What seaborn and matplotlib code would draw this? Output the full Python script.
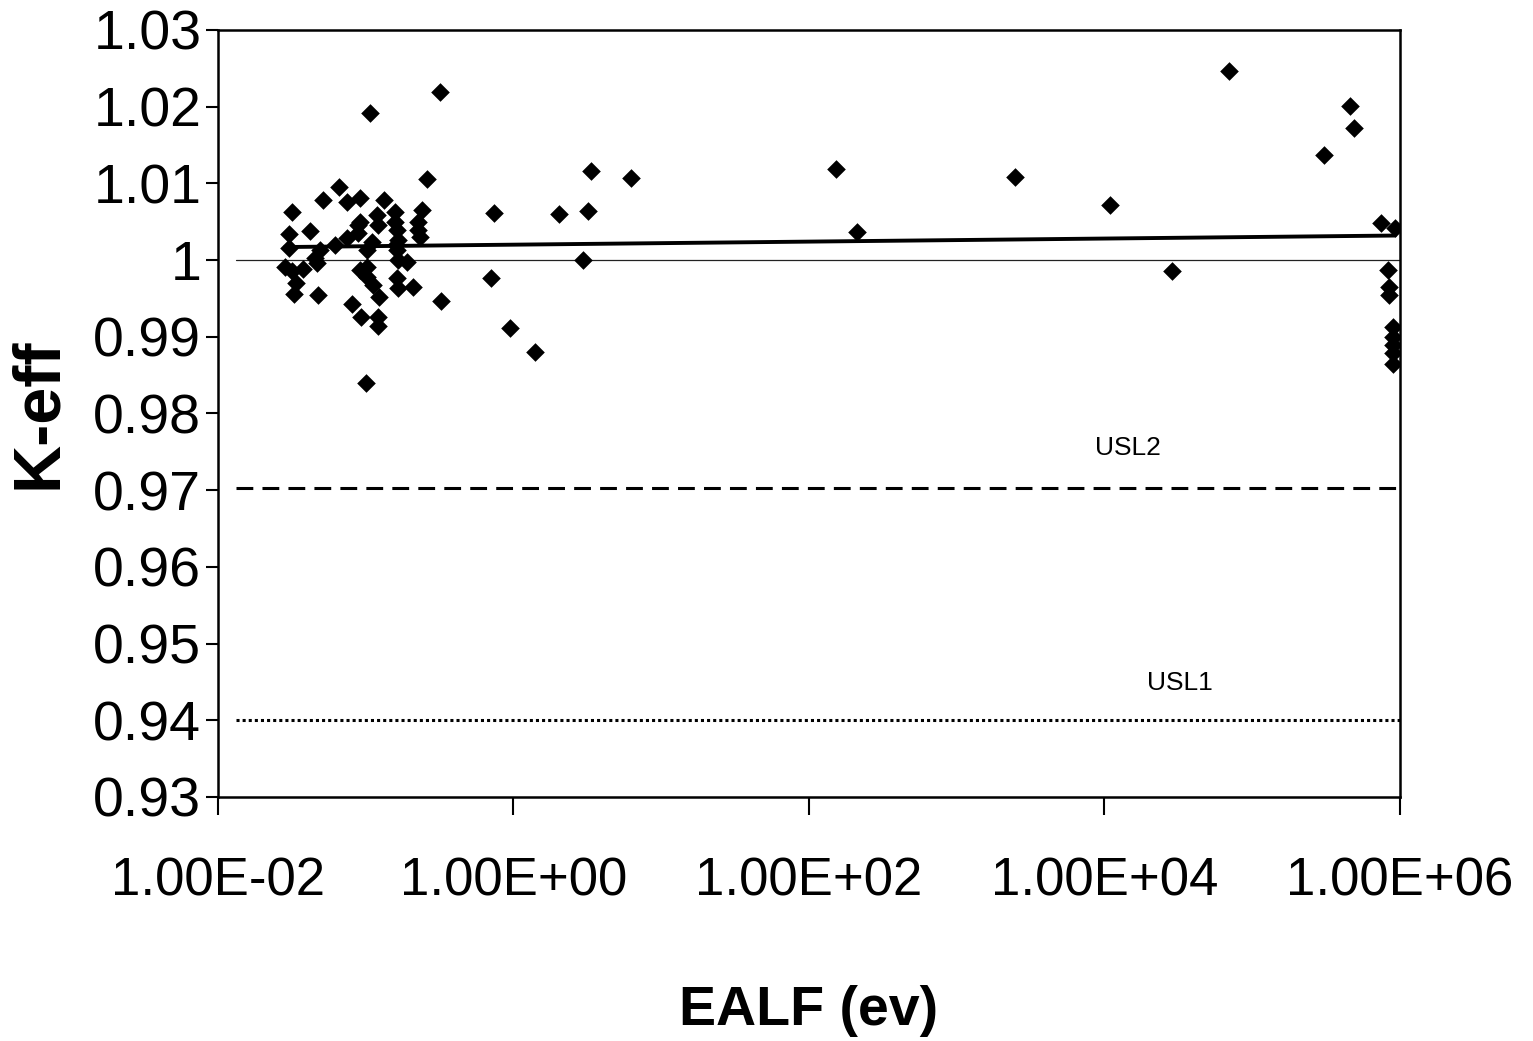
import numpy as np
import pandas as pd
import matplotlib
matplotlib.use("Agg")
import matplotlib.pyplot as plt
import seaborn as sns

# ---- data ----
ealf = [0.0317, 0.0303, 0.0303, 0.0284, 0.0317, 0.0376, 0.0337, 0.0327, 0.042, 0.0475,
        0.0454, 0.0468, 0.0514, 0.0619, 0.0659, 0.0747, 0.0747, 0.0915, 0.0915, 0.0887,
        0.102, 0.0915, 0.102, 0.102, 0.112, 0.0807, 0.0929, 0.123, 0.121, 0.121,
        0.1004, 0.119, 0.121, 0.133, 0.110, 0.158, 0.158, 0.163, 0.165, 0.163,
        0.165, 0.190, 0.163, 0.165, 0.209, 0.240, 0.226, 0.226, 0.233, 0.260,
        0.323, 0.107, 0.318, 0.049, 0.089, 0.160,
        0.738, 0.705, 0.946, 1.40, 2.03, 3.19, 3.35, 2.95, 6.24,
        152, 211, 2480, 10900, 28600, 69600,
        306000, 459000, 489000, 743000, 925000, 830000, 845000, 845000,
        897000, 897000, 897000, 897000, 897000]
keff = [1.0063, 1.0034, 1.0016, 0.9991, 0.9986, 0.9988, 0.9970, 0.9956, 1.0038, 0.9955,
        1.0003, 0.9996, 1.0078, 1.0020, 1.0095, 1.0076, 1.0029, 1.0081, 1.0050, 1.0035,
        1.0013, 0.9987, 0.9991, 0.9978, 0.9968, 0.9943, 0.9926, 0.9952, 0.9926, 0.9914,
        0.9840, 1.0059, 1.0046, 1.0078, 1.0024, 1.0063, 1.0050, 1.0039, 1.0026, 1.0013,
        1.0000, 0.99975, 0.9977, 0.9964, 0.9965, 1.0065, 1.0050, 1.0039, 1.0030, 1.0106,
        0.9947, 1.0192, 1.0219, 1.0013, 1.0046, 1.0020,
        1.0061, 0.9977, 0.9911, 0.9880, 1.0060, 1.0064, 1.0116, 1.0000, 1.0107,
        1.0119, 1.0037, 1.0108, 1.0072, 0.9986, 1.0247,
        1.0137, 1.0201, 1.0172, 1.0048, 1.0042, 0.9987, 0.9965, 0.9955,
        0.9913, 0.9900, 0.9889, 0.9879, 0.9865]

# logarithmic trendline as drawn in the reference (values at its two ends)
trend_x = [0.0284, 925000]
trend_keff = [1.0017, 1.0032]

ref_x = [0.0133, 1.0e6]        # extent of the horizontal reference series
unity = [1.0, 1.0]
usl2 = [0.9703, 0.9703]
usl1 = [0.940, 0.940]

xtick_vals = [1e-2, 1e0, 1e2, 1e4, 1e6]
xtick_labels = ["1.00E-02", "1.00E+00", "1.00E+02", "1.00E+04", "1.00E+06"]
ytick_vals = [1.03, 1.02, 1.01, 1.00, 0.99, 0.98, 0.97, 0.96, 0.95, 0.94, 0.93]
ytick_labels = ["1.03", "1.02", "1.01", "1", "0.99", "0.98", "0.97", "0.96", "0.95", "0.94", "0.93"]

df = pd.DataFrame({"EALF": ealf, "Keff": keff})
trend = pd.DataFrame({"EALF": trend_x, "Keff": trend_keff})

sns.set_theme(style="ticks")
plt.rcParams["font.family"] = ["Liberation Sans", "DejaVu Sans"]
plt.rcParams["text.color"] = "black"
plt.rcParams["axes.labelcolor"] = "black"
plt.rcParams["xtick.color"] = "black"
plt.rcParams["ytick.color"] = "black"

fig = plt.figure(figsize=(15.33, 10.41), dpi=100)
ax = fig.add_axes([0.1422, 0.2344, 0.9132 - 0.1422, 0.9712 - 0.2344])
ax.set_xscale("log")

# reference lines
ax.plot(ref_x, unity, color="#222222", lw=0.9, zorder=1)
ax.plot(ref_x, usl2, color="black", lw=2.2, dashes=(5.5, 3), zorder=1)
ax.plot(ref_x, usl1, color="black", lw=2.2, dashes=(1, 1), zorder=1)

# trendline
sns.lineplot(data=trend, x="EALF", y="Keff", color="black", lw=2.8, zorder=2, ax=ax)

sns.scatterplot(data=df, x="EALF", y="Keff", marker="D", color="black",
                edgecolor="black", linewidth=0, s=90, zorder=3, ax=ax)

ax.text(14400, 0.9755, "USL2", fontsize=19, ha="center", va="center", color="black")
ax.text(32400, 0.9449, "USL1", fontsize=19, ha="center", va="center", color="black")

ax.set_xlim(1e-2, 1e6)
ax.set_ylim(0.93, 1.03)
ax.set_xticks(xtick_vals)
ax.set_xticklabels(xtick_labels)
ax.xaxis.set_minor_locator(matplotlib.ticker.NullLocator())
ax.set_yticks(ytick_vals)
ax.set_yticklabels(ytick_labels)

ax.tick_params(axis="x", direction="out", length=13, width=1.5, labelsize=38, pad=30,
               color="black", labelcolor="black")
ax.tick_params(axis="y", direction="out", length=9, width=1.5, labelsize=40, pad=3,
               color="black", labelcolor="black")
for s in ax.spines.values():
    s.set_color("black")
    s.set_linewidth(1.8)

ax.set_xlabel("EALF (ev)", fontsize=40, fontweight="bold", color="black")
ax.set_ylabel("K-eff", fontsize=48, fontweight="bold", color="black")
ax.xaxis.set_label_coords(0.5, -0.245)
ax.yaxis.set_label_coords(-0.125, 0.5)

fig.savefig("out.png", dpi=100, facecolor="white")
